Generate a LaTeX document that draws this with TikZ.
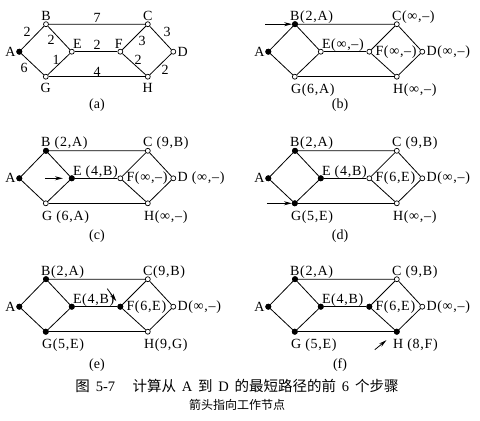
\documentclass[tikz,border=0pt]{standalone}
\usepackage{fontspec}
\setmainfont{Liberation Serif}
\newfontfamily\cjk{Noto Sans CJK SC}
\newfontfamily\lblfont[LetterSpace=5]{Liberation Serif}
\usetikzlibrary{arrows.meta}
\tikzset{
 vtx/.style={circle, draw, fill=white, inner sep=0pt, minimum size=5pt, line width=0.7pt},
 donevtx/.style={circle, fill=black, inner sep=0pt, minimum size=6pt},
 edge/.style={line width=0.8pt},
 lbl/.style={font=\lblfont\fontsize{14}{16}\selectfont, inner sep=0pt},
 wt/.style={font=\fontsize{14}{16}\selectfont, inner sep=0pt},
 plab/.style={font=\fontsize{14}{16}\selectfont, inner sep=0pt},
 ptr/.style={-{Stealth[length=8pt,width=4pt]}, line width=0.8pt},
 lN/.style={lbl, anchor=base west, xshift=-5pt, yshift=4pt},
 lE/.style={lbl, anchor=base west, xshift=1pt, yshift=3pt},
 lF/.style={lbl, anchor=west, xshift=6pt},
 lD/.style={lbl, anchor=west, xshift=4pt},
 lS/.style={lbl, anchor=base west, xshift=-4pt, yshift=-17pt},
 lA/.style={lbl, anchor=east, xshift=-3.5pt},
}
\newcommand\mkpanel[3]{%
 \begin{scope}[shift={(#2,#3)}]
  \node[vtx] (#1-A) at (0,0) {};
  \node[vtx] (#1-B) at (26.7,-27.5) {};
  \node[vtx] (#1-E) at (52.5,0) {};
  \node[vtx] (#1-G) at (26.5,25) {};
  \node[vtx] (#1-F) at (101,0) {};
  \node[vtx] (#1-C) at (128.5,-27.5) {};
  \node[vtx] (#1-D) at (154,0) {};
  \node[vtx] (#1-H) at (128.5,25) {};
 \end{scope}
 \draw[edge] (#1-A) -- (#1-B) -- (#1-E) -- (#1-G) -- (#1-A);
 \draw[edge] (#1-B) -- (#1-C) -- (#1-D) -- (#1-H) -- (#1-F) -- (#1-C);
 \draw[edge] (#1-E) -- (#1-F);
 \draw[edge] (#1-G) -- (#1-H);
}
\newcommand\fillv[2]{\foreach \n in {#2} {\node[donevtx] (#1-\n-f) at (#1-\n) {};}}
\newcommand\lbls[8]{%
 \node[lN] (#1-lB) at (#1-B.center) {#2};
 \node[lN] (#1-lC) at (#1-C.center) {#3};
 \node[lE] (#1-lE) at (#1-E.center) {#4};
 \node[lF] (#1-lF) at (#1-F.center) {#5};
 \node[lD] (#1-lD) at (#1-D.center) {#6};
 \node[lS] (#1-lG) at (#1-G.center) {#7};
 \node[lS] (#1-lH) at (#1-H.center) {#8};
 \node[lA] (#1-lA) at (#1-A.center) {A};
}
\newcommand\capgap{\hspace{0.4em}}
\begin{document}
\begin{tikzpicture}[x=1pt,y=-1pt]
\useasboundingbox (0,0) rectangle (480,421);
% ---------- (a)
\mkpanel{a}{19.3}{51.7}
\fillv{a}{A}
\node[lbl, anchor=base, yshift=4pt] (a-lB) at (a-B.center) {B};
\node[lbl, anchor=base, yshift=4pt] (a-lC) at (a-C.center) {C};
\node[lbl, anchor=base west, xshift=1pt, yshift=3.5pt] (a-lE) at (a-E.center) {E};
\node[lbl, anchor=base, xshift=-1.5pt, yshift=3.5pt] (a-lF) at (a-F.center) {F};
\node[lD] (a-lD) at (a-D.center) {D};
\node[lbl, anchor=base, yshift=-16pt] (a-lG) at (a-G.center) {G};
\node[lbl, anchor=base, yshift=-16pt] (a-lH) at (a-H.center) {H};
\node[lA] (a-lA) at (a-A.center) {A};
\node[wt] (w-AB) at (27,32) {2};
\node[wt] (w-BC) at (97,18) {7};
\node[wt] (w-BE) at (51,40) {2};
\node[wt] (w-EF) at (97,45) {2};
\node[wt] (w-FC) at (142,41) {3};
\node[wt] (w-CD) at (167,32) {3};
\node[wt] (w-EG) at (56,60) {1};
\node[wt] (w-AG) at (24,68) {6};
\node[wt] (w-GH) at (97,72) {4};
\node[wt] (w-FH) at (138,60) {2};
\node[wt] (w-DH) at (165,70) {2};
\node[plab] (cap-a) at (97,105) {(a)};
% ---------- (b)
\mkpanel{b}{268.3}{51.7}
\fillv{b}{A,B}
\lbls{b}{B(2,A)}{C(∞,–)}{E(∞,–)}{F(∞,–)}{D(∞,–)}{G(6,A)}{H(∞,–)}
\coordinate (b-p) at ([xshift=-30pt]b-B.center);
\draw[ptr] (b-p) -- (b-B);
\node[plab] (cap-b) at (340,105) {(b)};
% ---------- (c)
\mkpanel{c}{19.3}{178.3}
\fillv{c}{A,B,E}
\lbls{c}{B (2,A)}{C (9,B)}{E (4,B)}{F(∞,–)}{D (∞,–)}{G (6,A)}{H(∞,–)}
\coordinate (c-p) at ([xshift=-27pt]c-E.center);
\draw[ptr, shorten >=6pt] (c-p) -- (c-E);
\node[plab] (cap-c) at (97,236) {(c)};
% ---------- (d)
\mkpanel{d}{268.3}{178.3}
\fillv{d}{A,B,E,G}
\lbls{d}{B(2,A)}{C (9,B)}{E (4,B)}{F(6,E)}{D(∞,–)}{G(5,E)}{H(∞,–)}
\coordinate (d-p) at ([xshift=-28pt]d-G.center);
\draw[ptr] (d-p) -- (d-G);
\node[plab] (cap-d) at (340,236) {(d)};
% ---------- (e)
\mkpanel{e}{19.3}{306.7}
\fillv{e}{A,B,E,G,F}
\lbls{e}{B(2,A)}{C(9,B)}{E(4,B)}{F(6,E)}{D(∞,–)}{G(5,E)}{H(9,G)}
\coordinate (e-p) at ([xshift=-13pt,yshift=18pt]e-F.center);
\draw[ptr, shorten >=4pt] (e-p) -- (e-F);
\node[plab] (cap-e) at (97,365) {(e)};
% ---------- (f)
\mkpanel{f}{268.3}{306.7}
\fillv{f}{A,B,E,G,F,H}
\lbls{f}{B(2,A)}{C (9,B)}{E(4,B)}{F(6,E)}{D(∞,–)}{G (5,E)}{H (8,F)}
\coordinate (f-p) at ([xshift=-22pt,yshift=-18pt]f-H.center);
\draw[ptr, shorten >=10.5pt] (f-p) -- (f-H);
\node[plab] (cap-f) at (340,365) {(f)};
% ---------- caption
\node[font=\fontsize{14.5}{17}\selectfont, inner sep=0pt] (caption) at (237,386)
 {{\cjk 图}\capgap 5-7\hspace{1.2em}{\cjk 计算从}\capgap A\capgap{\cjk 到}\capgap D\capgap{\cjk 的最短路径的前}\capgap 6\capgap{\cjk 个步骤}};
\node[font=\cjk\fontsize{12}{14}\selectfont, inner sep=0pt] (subcaption) at (237,405) {箭头指向工作节点};
\end{tikzpicture}
\end{document}
